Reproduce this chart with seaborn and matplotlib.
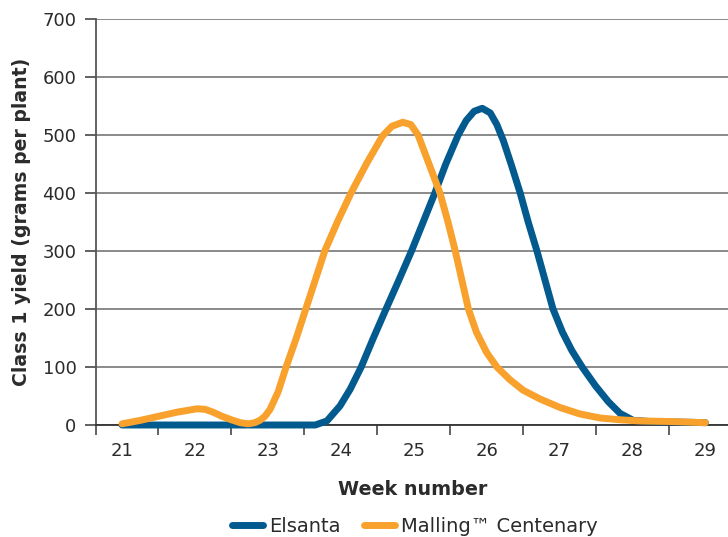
import seaborn as sns
import matplotlib.pyplot as plt
import pandas as pd

sns.set_style("white")
plt.rcParams['font.family'] = ['DejaVu Sans']

# data (week number, grams per plant)
elsanta_weeks = [21, 22, 23, 23.5, 23.65, 23.81, 23.99, 24.13, 24.28, 24.44,
                 24.61, 24.79, 24.97, 25.13, 25.29, 25.44, 25.61, 25.72, 25.83,
                 25.94, 26.05, 26.14, 26.23, 26.34, 26.46, 26.57, 26.69, 26.80,
                 26.91, 27.04, 27.17, 27.31, 27.49, 27.67, 27.83, 28.01, 28.24,
                 28.65, 29]
elsanta_yield = [0, 0, 0, 0, 0, 7, 33, 62, 100, 148,
                 197, 248, 300, 350, 400, 450, 500, 525, 541,
                 546, 538, 518, 490, 448, 400, 350, 300, 250,
                 200, 160, 128, 100, 68, 40, 20, 8, 6,
                 5, 4]

malling_weeks = [21, 21.25, 21.5, 21.75, 22.03, 22.14, 22.25, 22.37, 22.5, 22.62,
                 22.73, 22.82, 22.89, 22.96, 23.03, 23.14, 23.25, 23.39, 23.52,
                 23.65, 23.78, 23.96, 24.14, 24.35, 24.57, 24.70, 24.85, 24.96,
                 25.06, 25.21, 25.36, 25.47, 25.57, 25.66, 25.75, 25.86, 26.0,
                 26.14, 26.32, 26.5, 26.73, 27.01, 27.28, 27.56, 27.83, 28.11,
                 28.52, 29]
malling_yield = [2, 8, 15, 22, 28, 27, 22, 15, 9, 4,
                 2, 4, 8, 15, 27, 57, 100, 150, 200,
                 250, 300, 352, 400, 450, 498, 515, 522, 518,
                 500, 450, 400, 350, 300, 250, 200, 160, 125,
                 100, 78, 60, 45, 30, 19, 12, 9, 7,
                 6, 4]

week_labels = [21, 22, 23, 24, 25, 26, 27, 28, 29]
y_ticks = [0, 100, 200, 300, 400, 500, 600, 700]

blue = "#035a8f"
orange = "#f8a12c"
text_col = "#2b2b2b"

df_e = pd.DataFrame({"week": elsanta_weeks, "yield": elsanta_yield})
df_m = pd.DataFrame({"week": malling_weeks, "yield": malling_yield})

fig = plt.figure(figsize=(7.28, 5.37), dpi=100)
ax = fig.add_axes([96 / 728, 1 - 425 / 537, 1 - 96 / 728, (425 - 19) / 537])

sns.lineplot(data=df_e, x="week", y="yield", ax=ax, color=blue, linewidth=5,
             sort=False, clip_on=False, solid_capstyle="round",
             solid_joinstyle="round", label="Elsanta", zorder=3)
sns.lineplot(data=df_m, x="week", y="yield", ax=ax, color=orange, linewidth=5,
             sort=False, clip_on=False, solid_capstyle="round",
             solid_joinstyle="round", label="Malling\u2122 Centenary", zorder=4)

xmin, xmax = 20.643, 29.31
ax.set_xlim(xmin, xmax)
ax.set_ylim(0, 700)

ax.set_yticks(y_ticks)
ax.set_xticks(week_labels)
ax.set_xticks([xmin] + [w + 0.5 for w in week_labels[:-1]], minor=True)
ax.tick_params(axis="x", which="major", length=0, pad=12, labelsize=13,
               labelcolor=text_col)
ax.tick_params(axis="x", which="minor", length=7, width=1.3, color="#555555",
               direction="out")
ax.tick_params(axis="y", length=8, width=1.3, color="#555555", pad=6,
               labelsize=13, labelcolor=text_col)
ax.xaxis.set_tick_params(bottom=True, which="both")
ax.yaxis.set_tick_params(left=True)

ax.yaxis.grid(True, color="#8a8a8a", linewidth=1.4)
ax.set_axisbelow(True)

for side in ["top", "right"]:
    ax.spines[side].set_visible(False)
ax.spines["left"].set_color("#555555")
ax.spines["left"].set_linewidth(1.3)
ax.spines["bottom"].set_color("#333333")
ax.spines["bottom"].set_linewidth(1.3)

ax.set_xlabel("Week number", fontsize=13.8, fontweight="bold", color=text_col)
ax.set_ylabel("Class 1 yield (grams per plant)", fontsize=13.6,
              fontweight="bold", color=text_col, labelpad=8)
ax.xaxis.set_label_coords((413 - 96) / (728 - 96), -(480 - 425) / 406)

ax.get_legend().remove()
handles, labels = ax.get_legend_handles_labels()
fig.legend(handles, labels, loc="center", bbox_to_anchor=(415 / 728, 1 - 526 / 537),
           ncol=2, frameon=False, fontsize=14, handlelength=1.6,
           handletextpad=0.3, columnspacing=1.2, labelcolor=text_col,
           borderaxespad=0, borderpad=0)

fig.savefig("out.png", dpi=100)
